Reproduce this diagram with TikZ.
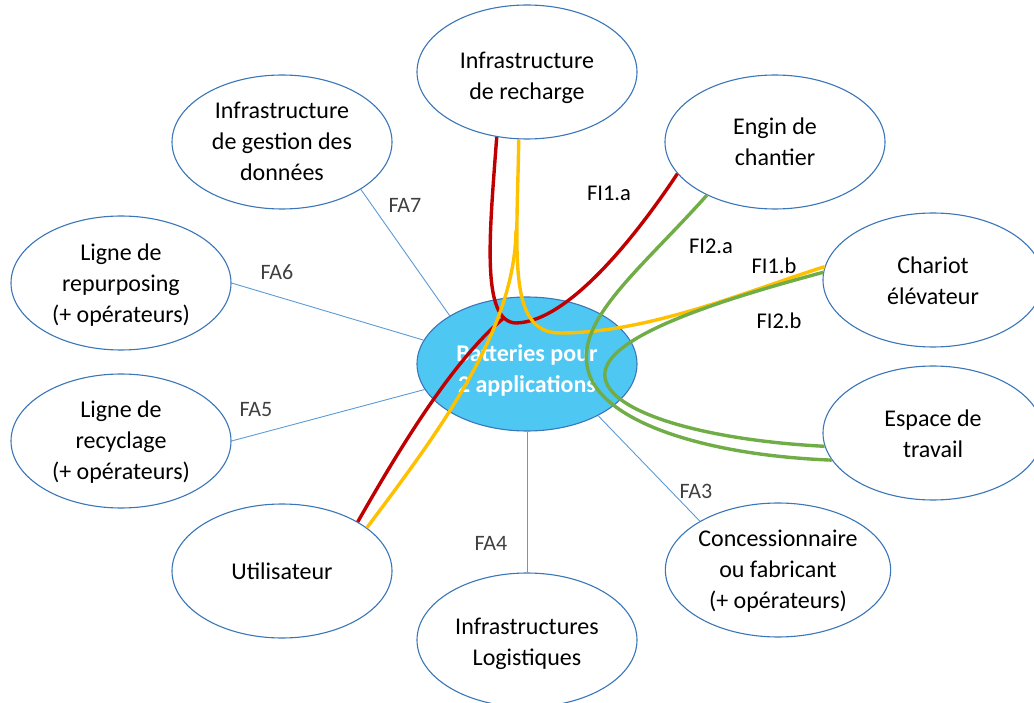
\documentclass[tikz,border=0pt]{standalone}
\usepackage{fontspec}
\setmainfont{Carlito}
\usetikzlibrary{shapes.geometric}
\definecolor{eblue}{RGB}{58,118,184}
\definecolor{lblue}{RGB}{91,155,213}
\definecolor{cblue}{RGB}{78,199,243}
\definecolor{fred}{RGB}{192,0,0}
\definecolor{fyel}{RGB}{255,192,0}
\definecolor{fgreen}{RGB}{112,173,71}
\definecolor{fagray}{RGB}{64,64,64}
\newcommand\lowtxt[2]{\raisebox{-#1}[\height][\depth]{\begin{tabular}{@{}c@{}}#2\end{tabular}}}
\begin{document}
\begin{tikzpicture}[x=1pt,y=-1pt,
  ent/.style={ellipse, draw=eblue, line width=1.1pt, fill=white, minimum width=220pt, minimum height=134pt, inner sep=0pt, align=center, font=\fontsize{24}{31}\selectfont},
  core/.style={ent, fill=cblue, text=white, font=\fontsize{24}{31}\selectfont\bfseries},
  fal/.style={draw=lblue, line width=0.9pt},
  falabel/.style={text=fagray, inner sep=0pt, font=\fontsize{22}{26}\selectfont},
  filabel/.style={text=black, inner sep=0pt, font=\fontsize{22.5}{26}\selectfont},
  flow/.style={line width=3.4pt}
]
\useasboundingbox (0,0) rectangle (1034,703);

\node[core] (bat) at (527,364) {\lowtxt{7pt}{Batteries pour\\2 applications}};
\node[ent] (rech) at (527,72) {\lowtxt{6pt}{Infrastructure\\de recharge}};
\node[ent] (eng) at (775,142) {\lowtxt{2pt}{Engin de\\chantier}};
\node[ent] (gest) at (282,142) {\lowtxt{1pt}{Infrastructure\\de gestion des\\données}};
\node[ent] (rep) at (121,283) {\lowtxt{2pt}{Ligne de\\repurposing\\(+ opérateurs)}};
\node[ent] (char) at (933,280) {\lowtxt{3pt}{Chariot\\élévateur}};
\node[ent] (rec) at (121,441) {\lowtxt{1pt}{Ligne de\\recyclage\\(+ opérateurs)}};
\node[ent] (esp) at (933,433) {\lowtxt{3pt}{Espace de\\travail}};
\node[ent] (util) at (282,571) {Utilisateur};
\node[ent] (conc) at (778,570) {\lowtxt{1pt}{Concessionnaire\\ou fabricant\\(+ opérateurs)}};
\node[ent] (log) at (527,640) {\lowtxt{4pt}{Infrastructures\\Logistiques}};

% functional links FA
\draw[fal] (bat.148) -- (gest.329);
\draw[fal] (bat.167) -- (rep.0);
\draw[fal] (bat.194) -- (rec.0);
\draw[fal] (bat.270) -- (log.90);
\draw[fal] (bat.324) -- (conc.148);

\node[falabel] (fa7) at (405,205) {FA7};
\node[falabel] (fa6) at (277,272) {FA6};
\node[falabel] (fa5) at (256,410) {FA5};
\node[falabel] (fa4) at (491,543) {FA4};
\node[falabel] (fa3) at (696,491) {FA3};

% flows FI
\coordinate (redjoin) at (505,317);
\coordinate (yeljoin) at (516,230);
\draw[flow, fred] (rech.245) .. controls (490,230) and (480,322) .. (516,323)
  .. controls (570,322) and (640,230) .. (eng.198);
\draw[flow, fred] (util.33) .. controls (392,462) and (450,362) .. (redjoin);
\draw[flow, fyel] (rech.263) .. controls (517,255) and (507,333) .. (560,333)
  .. controls (650,333) and (750,290) .. (char.173);
\draw[flow, fyel] (util.27) .. controls (440,430) and (515,330) .. (yeljoin);
\draw[flow, fgreen] (eng.218) .. controls (640,270) and (575,320) .. (588,370)
  .. controls (600,420) and (700,455) .. (esp.195);
\draw[flow, fgreen] (char.176) .. controls (720,300) and (610,335) .. (605,372)
  .. controls (600,410) and (700,440) .. (esp.187);

\node[filabel] (fi1a) at (609,193) {FI1.a};
\node[filabel] (fi2a) at (711,246) {FI2.a};
\node[filabel] (fi1b) at (774,266) {FI1.b};
\node[filabel] (fi2b) at (779,321) {FI2.b};
\end{tikzpicture}
\end{document}
